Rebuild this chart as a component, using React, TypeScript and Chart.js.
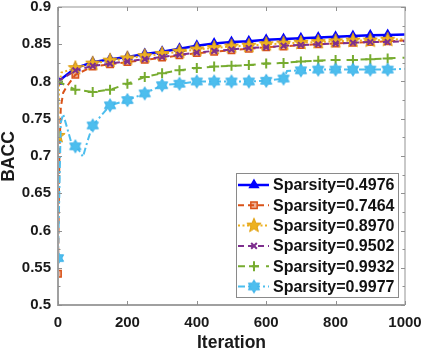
import React, { useEffect, useRef } from 'react';
import { Chart, registerables } from 'chart.js';
import { drawPoint } from 'chart.js/helpers';
Chart.register(...registerables);

const LABELS = [
  'Sparsity=0.4976',
  'Sparsity=0.7464',
  'Sparsity=0.8970',
  'Sparsity=0.9502',
  'Sparsity=0.9932',
  'Sparsity=0.9977',
];

const X_TICKS = [0, 200, 400, 600, 800, 1000];
const Y_TICKS = [0.5, 0.55, 0.6, 0.65, 0.7, 0.75, 0.8, 0.85, 0.9];

const MAIN_ITER = [50, 100, 150, 200, 250, 300, 350, 400, 450, 500, 550, 600, 650, 700, 750, 800, 850, 900, 950, 1000];

const iter1 = [0, ...MAIN_ITER];
const vals1 = [0.800, 0.818, 0.826, 0.830, 0.833, 0.837, 0.840, 0.844, 0.848, 0.851, 0.853, 0.854, 0.856, 0.857, 0.858, 0.859, 0.860, 0.861, 0.862, 0.8625, 0.863];

const iter2 = [0, 4, 8, 15, 25, ...MAIN_ITER];
const vals2 = [0.542, 0.700, 0.765, 0.785, 0.793, 0.809, 0.820, 0.823, 0.826, 0.829, 0.832, 0.835, 0.838, 0.840, 0.842, 0.844, 0.846, 0.847, 0.849, 0.850, 0.851, 0.852, 0.853, 0.854, 0.855];

const iter3 = [0, 3, 10, ...MAIN_ITER];
const vals3 = [0.727, 0.795, 0.812, 0.818, 0.824, 0.828, 0.831, 0.834, 0.837, 0.840, 0.843, 0.845, 0.847, 0.848, 0.850, 0.851, 0.852, 0.853, 0.854, 0.855, 0.855, 0.856, 0.857];

const iter4 = [0, ...MAIN_ITER];
const vals4 = [0.800, 0.815, 0.821, 0.824, 0.827, 0.830, 0.833, 0.836, 0.839, 0.841, 0.843, 0.845, 0.846, 0.848, 0.849, 0.850, 0.851, 0.852, 0.853, 0.853, 0.854];

const iter5 = [0, ...MAIN_ITER];
const vals5 = [0.800, 0.789, 0.786, 0.789, 0.797, 0.806, 0.811, 0.815, 0.818, 0.820, 0.821, 0.822, 0.824, 0.825, 0.827, 0.828, 0.829, 0.829, 0.830, 0.831, 0.832];

const iter6 = [0, 8, 15, 28, 40, 50, 60, 72, 85, 100, 150, 200, 250, 300, 350, 400, 450, 500, 550, 600, 650, 660, 700, 750, 800, 850, 900, 950, 1000];
const vals6 = [0.563, 0.745, 0.756, 0.735, 0.715, 0.713, 0.708, 0.699, 0.720, 0.741, 0.768, 0.775, 0.784, 0.795, 0.797, 0.800, 0.800, 0.800, 0.800, 0.801, 0.804, 0.814, 0.815, 0.816, 0.816, 0.816, 0.816, 0.816, 0.817];

const COLORS = ['#0000FF', '#D95319', '#EDB120', '#7E2F8E', '#77AC30', '#4DBEEE'];

function starCanvas(n: number, outer: number, inner: number, fill: string, stroke: string) {
  const size = Math.ceil(outer * 2 + 3);
  const c = document.createElement('canvas');
  c.width = size;
  c.height = size;
  const g = c.getContext('2d')!;
  const cx = size / 2;
  const cy = size / 2;
  g.beginPath();
  for (let i = 0; i < n * 2; i++) {
    const r = i % 2 === 0 ? outer : inner;
    const a = -Math.PI / 2 + (i * Math.PI) / n;
    const x = cx + r * Math.cos(a);
    const y = cy + r * Math.sin(a);
    if (i === 0) g.moveTo(x, y);
    else g.lineTo(x, y);
  }
  g.closePath();
  g.fillStyle = fill;
  g.fill();
  g.strokeStyle = stroke;
  g.lineWidth = 1;
  g.stroke();
  return c;
}

const FONT = "'Liberation Sans', Arial, sans-serif";

export default function App() {
  const ref = useRef<HTMLCanvasElement | null>(null);

  useEffect(() => {
    document.body.style.margin = '0';
    const canvas = ref.current!;
    const pent = starCanvas(5, 7.5, 3.2, '#EDB120', '#E0A010');
    const hexa = starCanvas(6, 6.5, 3.8, '#4DBEEE', '#3AB0E8');

    const series = [
      { it: iter1, v: vals1, style: 'triangle' as any, r: 5, dash: [] as number[], w: 2.5, pbg: '#0000FF', pb: '#0000FF', pw: 1.5 },
      { it: iter2, v: vals2, style: 'rect' as any, r: 4.5, dash: [6, 4], w: 2, pbg: 'rgba(217,83,25,0.45)', pb: '#D95319', pw: 1.5 },
      { it: iter3, v: vals3, style: pent as any, r: 6, dash: [2, 2.5], w: 2, pbg: '#EDB120', pb: '#EDB120', pw: 1 },
      { it: iter4, v: vals4, style: 'crossRot' as any, r: 4, dash: [6, 4], w: 2, pbg: '#7E2F8E', pb: '#7E2F8E', pw: 2 },
      { it: iter5, v: vals5, style: 'cross' as any, r: 5, dash: [7, 7], w: 2, pbg: '#77AC30', pb: '#77AC30', pw: 2 },
      { it: iter6, v: vals6, style: hexa as any, r: 6, dash: [7, 3, 2, 3], w: 2, pbg: '#4DBEEE', pb: '#4DBEEE', pw: 1 },
    ];

    const datasets = series.map((s, i) => ({
      label: LABELS[i],
      data: s.it.map((x, k) => ({ x, y: s.v[k] })),
      borderColor: COLORS[i],
      borderWidth: s.w,
      borderDash: s.dash,
      backgroundColor: s.pbg,
      pointStyle: s.style,
      pointBackgroundColor: s.pbg,
      pointBorderColor: s.pb,
      pointBorderWidth: s.pw,
      pointRadius: (ctx: any) => {
        const p = ctx.raw;
        return p && p.x % 50 === 0 && p.x < 1000 ? s.r : 0;
      },
      tension: 0,
      fill: false,
      order: 6 - i,
    }));

    const axesPlugin = {
      id: 'matlabAxes',
      afterDraw(chart: any) {
        const { ctx, chartArea: a, scales } = chart;
        const xs = scales.x;
        const ys = scales.y;
        ctx.save();
        ctx.setLineDash([]);
        // box
        ctx.strokeStyle = '#b8b8b8';
        ctx.lineWidth = 1.5;
        ctx.beginPath();
        ctx.moveTo(a.left, a.top);
        ctx.lineTo(a.right, a.top);
        ctx.lineTo(a.right, a.bottom);
        ctx.stroke();
        ctx.strokeStyle = '#a0a0a0';
        ctx.lineWidth = 2;
        ctx.beginPath();
        ctx.moveTo(a.left, a.top);
        ctx.lineTo(a.left, a.bottom);
        ctx.lineTo(a.right, a.bottom);
        ctx.stroke();
        // ticks
        ctx.strokeStyle = '#909090';
        ctx.lineWidth = 1;
        ctx.beginPath();
        for (const t of X_TICKS) {
          const px = Math.round(xs.getPixelForValue(t)) + 0.5;
          ctx.moveTo(px, a.bottom);
          ctx.lineTo(px, a.bottom - 4);
          ctx.moveTo(px, a.top);
          ctx.lineTo(px, a.top + 4);
        }
        for (let k = 0; k < Y_TICKS.length * 2 - 1; k++) {
          const v = 0.5 + k * 0.025;
          const len = k % 2 === 0 ? 4 : 2.5;
          const py = Math.round(ys.getPixelForValue(v)) + 0.5;
          ctx.moveTo(a.left, py);
          ctx.lineTo(a.left + len, py);
          ctx.moveTo(a.right, py);
          ctx.lineTo(a.right - len, py);
        }
        ctx.stroke();

        // axis titles
        ctx.fillStyle = '#1a1a1a';
        ctx.font = `bold 17.5px ${FONT}`;
        ctx.textAlign = 'center';
        ctx.textBaseline = 'middle';
        ctx.fillText('Iteration', (a.left + a.right) / 2, 343);
        ctx.save();
        ctx.translate(9.5, 156.5);
        ctx.rotate(-Math.PI / 2);
        ctx.fillText('BACC', 0, 0);
        ctx.restore();

        // legend
        const lx = 236, ly = 173, lw = 162, lh = 124;
        ctx.fillStyle = '#ffffff';
        ctx.fillRect(lx, ly, lw, lh);
        ctx.strokeStyle = '#8a8a8a';
        ctx.lineWidth = 1;
        ctx.strokeRect(lx + 0.5, ly + 0.5, lw, lh);
        ctx.font = `bold 16px ${FONT}`;
        ctx.textAlign = 'left';
        ctx.textBaseline = 'middle';
        series.forEach((s, i) => {
          const y = ly + 12 + i * 20.3;
          ctx.strokeStyle = COLORS[i];
          ctx.lineWidth = s.w;
          ctx.setLineDash(s.dash);
          ctx.beginPath();
          ctx.moveTo(lx + 2, y);
          ctx.lineTo(lx + 33, y);
          ctx.stroke();
          ctx.setLineDash([]);
          ctx.fillStyle = s.pbg;
          ctx.strokeStyle = s.pb;
          ctx.lineWidth = s.pw;
          drawPoint(ctx, { pointStyle: s.style, radius: s.r, rotation: 0, borderWidth: s.pw } as any, lx + 18, y);
          ctx.fillStyle = '#111111';
          ctx.fillText(LABELS[i], lx + 37, y + 1);
        });
        ctx.restore();
      },
    };

    const chart = new Chart(canvas, {
      type: 'line',
      data: { datasets: datasets as any },
      options: {
        responsive: false,
        animation: false,
        devicePixelRatio: 1,
        layout: { padding: { top: 7, right: 18, left: 0, bottom: 0 } },
        plugins: { legend: { display: false }, tooltip: { enabled: false } },
        scales: {
          x: {
            type: 'linear',
            min: 0,
            max: 1000,
            afterFit: (s: any) => {
              s.height = 46;
              s.paddingLeft = 0;
              s.paddingRight = 0;
            },
            afterBuildTicks: (s: any) => {
              s.ticks = X_TICKS.map((v) => ({ value: v }));
            },
            grid: { display: false, drawTicks: false },
            border: { display: false },
            ticks: {
              padding: 9,
              color: '#1a1a1a',
              font: { family: FONT, size: 15, weight: 'bold' },
              maxRotation: 0,
              callback: (v: any) => String(v),
            },
          },
          y: {
            type: 'linear',
            min: 0.5,
            max: 0.9,
            afterFit: (s: any) => {
              s.width = 58;
              s.paddingTop = 0;
              s.paddingBottom = 0;
            },
            afterBuildTicks: (s: any) => {
              s.ticks = Y_TICKS.map((v) => ({ value: v }));
            },
            grid: { display: false, drawTicks: false },
            border: { display: false },
            ticks: {
              padding: 7,
              color: '#1a1a1a',
              font: { family: FONT, size: 15, weight: 'bold' },
              callback: (v: any) => String(Number(Number(v).toFixed(2))),
            },
          },
        },
      },
      plugins: [axesPlugin],
    });
    return () => chart.destroy();
  }, []);

  return <canvas ref={ref} width={423} height={351} style={{ display: 'block' }} />;
}
